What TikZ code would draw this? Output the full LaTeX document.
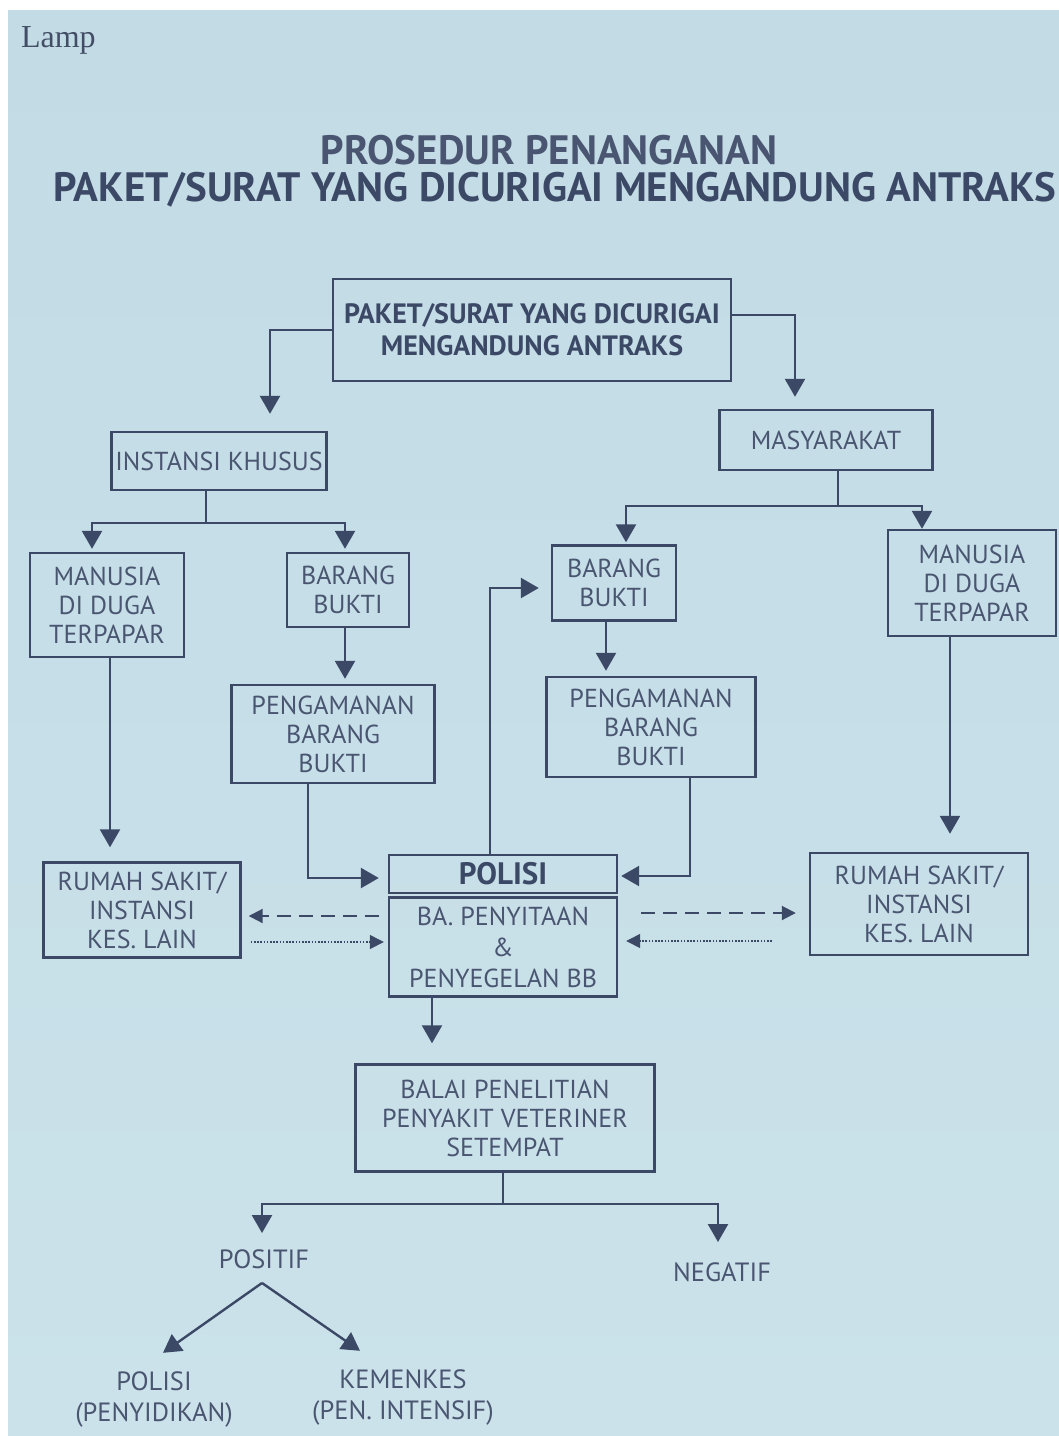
\documentclass[tikz,border=0pt]{standalone}
\usepackage{fontspec}
\setmainfont{PT Sans}
\newfontfamily\lampfont{Liberation Serif}
\usetikzlibrary{arrows.meta,calc}
\definecolor{ink}{HTML}{3B4866}
\definecolor{txt}{HTML}{4A5671}
\definecolor{paper}{HTML}{C2DBE5}
\definecolor{paperlight}{HTML}{CBE2EA}

\begin{document}
\begin{tikzpicture}[x=0.5pt,y=-0.5pt,
  sz/.style 2 args={minimum width=#1*0.5pt, minimum height=#2*0.5pt},
  box/.style={draw=ink, line width=1.2pt, align=center, text=txt, inner sep=0pt,
    font=\fontsize{13}{14.5}\selectfont},
  boldbox/.style={box, text=ink, font=\bfseries\fontsize{14}{16}\selectfont},
  label/.style={align=center, text=txt, inner sep=0pt, font=\fontsize{13.2}{15.5}\selectfont},
  line/.style={draw=ink, line width=1.2pt},
  conn/.style={line, -{Triangle[length=9pt,width=10pt]}},
  dashconn/.style={draw=ink, line width=1pt, dash pattern=on 7pt off 4pt,
    -{Triangle[length=7pt,width=7pt]}},
  dotconn/.style={draw=ink, line width=0.7pt, dash pattern=on 0.8pt off 0.8pt,
    -{Triangle[length=7pt,width=7pt]}},
  title/.style={text=ink, inner sep=0pt, font=\bfseries\fontsize{20.5}{24}\selectfont}]

% page
\useasboundingbox (0,0) rectangle (1059,1436);
\fill[white] (0,0) rectangle (1059,1436);
\shade[top color=paper, bottom color=paperlight] (8,10) rectangle (1059,1436);

% heading
\node[anchor=west, text=txt!90!black, font=\lampfont\fontsize{16}{18}\selectfont] (lamp) at (14,40) {Lamp};
\node[title, text=txt] (t1) at (549,150) {PROSEDUR PENANGANAN};
\node[title] (t2) at (555,190) {PAKET/SURAT YANG DICURIGAI MENGANDUNG ANTRAKS};

% boxes
\node[boldbox, sz={398}{102}] (paket) at (532,330) {PAKET/SURAT YANG DICURIGAI\\MENGANDUNG ANTRAKS};
\node[box, sz={215}{58}] (inst) at (219,461) {INSTANSI KHUSUS};
\node[box, sz={213}{60}] (masy) at (826,440) {MASYARAKAT};
\node[box, sz={154}{104}] (man1) at (107,605) {MANUSIA\\DI DUGA\\TERPAPAR};
\node[box, sz={122}{74}] (bb1) at (348,590) {BARANG\\BUKTI};
\node[box, sz={124}{75}] (bb2) at (614,583) {BARANG\\BUKTI};
\node[box, sz={168}{106}] (man2) at (972,583) {MANUSIA\\DI DUGA\\TERPAPAR};
\node[box, sz={203}{98}] (pg1) at (333,734) {PENGAMANAN\\BARANG\\BUKTI};
\node[box, sz={209}{100}] (pg2) at (651,727) {PENGAMANAN\\BARANG\\BUKTI};
\node[box, sz={197}{95}] (rs1) at (142,910) {RUMAH SAKIT/\\INSTANSI\\KES. LAIN};
\node[box, sz={218}{102}] (rs2) at (919,904) {RUMAH SAKIT/\\INSTANSI\\KES. LAIN};
\node[boldbox, sz={228}{38}, font=\bfseries\fontsize{15.5}{17}\selectfont] (pol) at (503,874) {POLISI};
\node[box, sz={228}{99}, font=\fontsize{13}{15.5}\selectfont] (ba) at (503,947) {BA. PENYITAAN\\\&\\PENYEGELAN BB};
\node[box, sz={299}{107}] (balai) at (505,1118) {BALAI PENELITIAN\\PENYAKIT VETERINER\\SETEMPAT};

% plain labels
\node[label] (pos) at (264,1259) {POSITIF};
\node[label] (neg) at (722,1272) {NEGATIF};
\node[label] (pp) at (154,1399) {POLISI\\(PENYIDIKAN)};
\node[label] (km) at (403,1397) {KEMENKES\\(PEN. INTENSIF)};

% first split
\draw[conn, shorten >=8.5pt] (paket.west) -| ($(inst.north)+(51,0)$);
\draw[conn, shorten >=6pt] ($(paket.east)+(0,-15)$) -| ($(masy.north)+(-31,0)$);

% instansi khusus branch
\coordinate (i0) at ($(inst.south)+(-13,0)$);
\coordinate (j1) at ($(inst.south)+(-13,32)$);
\draw[line] (i0) -- (j1);
\draw[conn, shorten >=1.5pt] (j1) -| ($(man1.north)+(-15,0)$);
\draw[conn, shorten >=1.5pt] (j1) -| ($(bb1.north)+(-3,0)$);

% masyarakat branch
\coordinate (m0) at ($(masy.south)+(12,0)$);
\coordinate (j2) at ($(masy.south)+(12,35)$);
\draw[line] (m0) -- (j2);
\draw[conn, shorten >=1pt] (j2) -| ($(bb2.north)+(12,0)$);
\draw[conn] (j2) -| ($(man2.north)+(-50,0)$);

% evidence handling
\coordinate (b1) at ($(bb1.south)+(-3,0)$);
\coordinate (b2) at ($(bb2.south)+(-8,0)$);
\coordinate (g1) at ($(pg1.south)+(-25,0)$);
\coordinate (g2) at ($(pg2.south)+(39,0)$);
\coordinate (p0) at ($(pol.north)+(-13,0)$);
\draw[conn, shorten >=2.5pt] (b1) -- (b1 |- pg1.north);
\draw[conn, shorten >=2.5pt] (b2) -- (b2 |- pg2.north);
\draw[conn, shorten >=4.5pt] (g1) |- ($(pol.west)+(0,4)$);
\draw[conn, shorten >=1.5pt] (g2) |- ($(pol.east)+(0,2)$);
\draw[conn, shorten >=6pt] (p0) |- ($(bb2.west)+(0,5)$);

% exposed persons
\coordinate (e1) at ($(man1.south)+(3,0)$);
\coordinate (e2) at ($(man2.south)+(-22,0)$);
\draw[conn, shorten >=7pt] (e1) -- (e1 |- rs1.north);
\draw[conn, shorten >=9pt] (e2) -- (e2 |- rs2.north);

% exchange with health institutions
\draw[dashconn, shorten <=4.5pt, shorten >=3.5pt] ($(ba.west)+(0,-31)$) -- ($(rs1.east)+(0,6)$);
\draw[dotconn, shorten <=4.5pt, shorten >=2pt] ($(rs1.east)+(0,32)$) -- ($(ba.west)+(0,-5)$);
\draw[dashconn, shorten <=11.5pt, shorten >=6.5pt] ($(ba.east)+(0,-34)$) -- ($(rs2.west)+(0,9)$);
\draw[dotconn, shorten <=18.5pt, shorten >=4pt] ($(rs2.west)+(0,37)$) -- ($(ba.east)+(0,-6)$);

% laboratory
\coordinate (l0) at ($(ba.south)+(-71,0)$);
\draw[conn, shorten >=10pt] (l0) -- (l0 |- balai.north);
\coordinate (k0) at ($(balai.south)+(-2,0)$);
\coordinate (j3) at ($(balai.south)+(-2,31)$);
\draw[line] (k0) -- (j3);
\draw[conn, shorten >=8pt] (j3) -| ($(pos.north)+(-2,0)$);
\draw[conn, shorten >=10pt] (j3) -| ($(neg.north)+(-4,0)$);

% positive result
\coordinate (pfork) at ($(pos.south)+(-2,14)$);
\draw[conn] (pfork) -- ($(pp.north)+(9,-18)$);
\draw[conn] (pfork) -- ($(km.north)+(-43,-18)$);
\end{tikzpicture}
\end{document}
